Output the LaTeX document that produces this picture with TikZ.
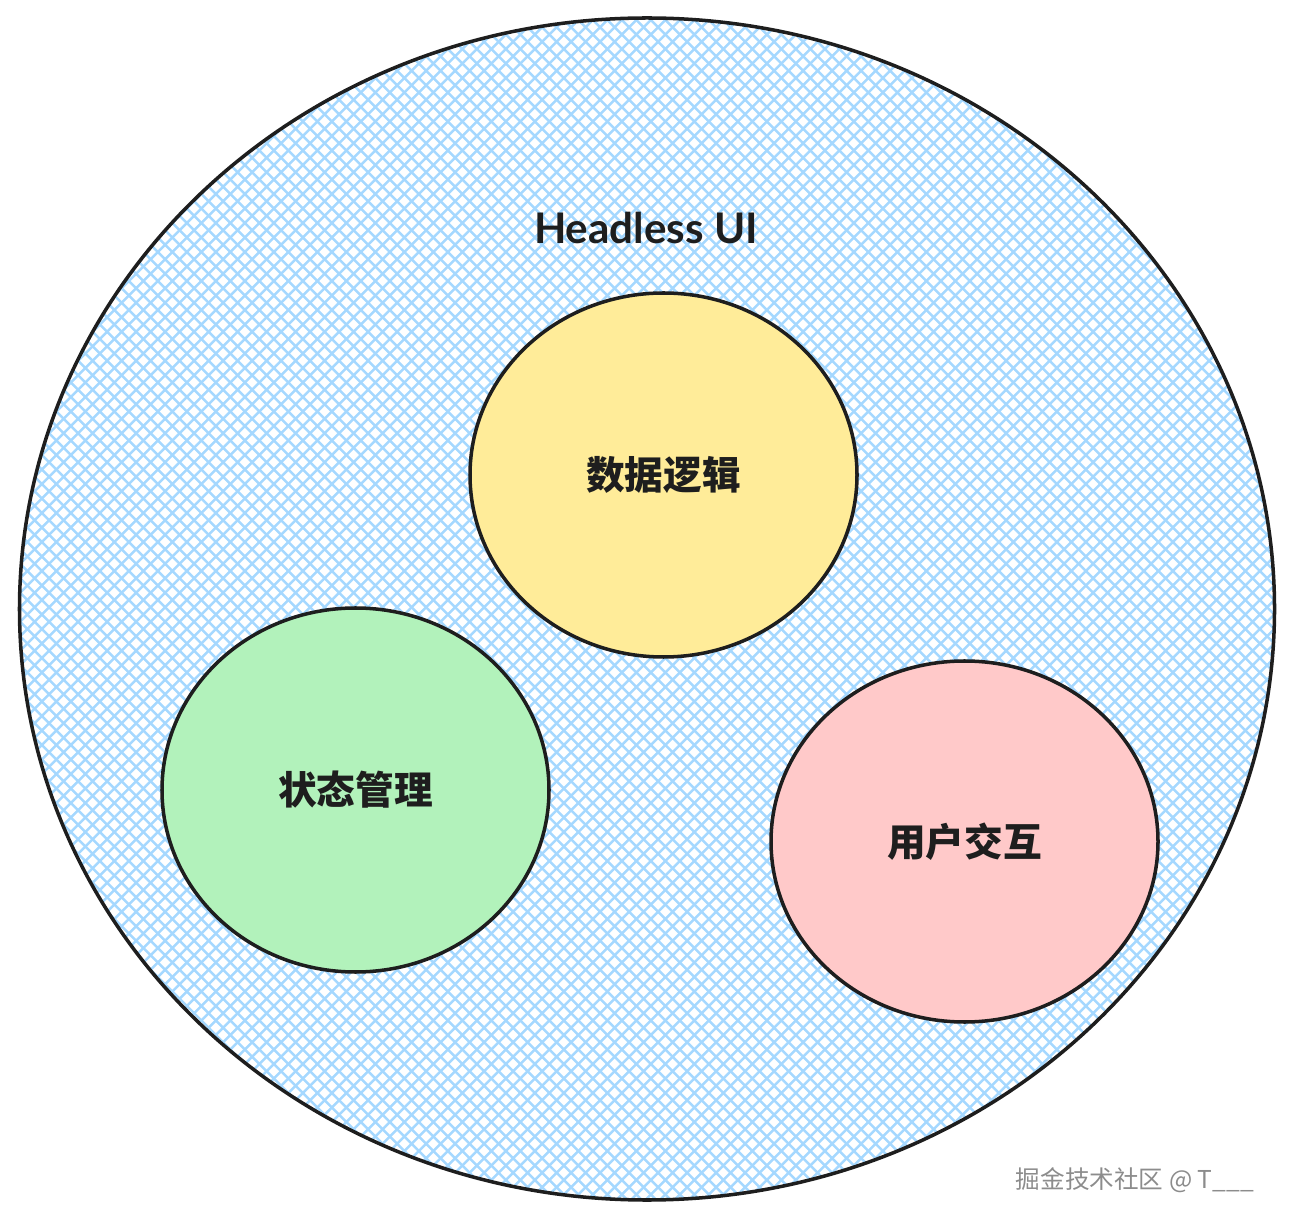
\documentclass[tikz,border=0pt]{standalone}
\usepackage{fontspec}
\setmainfont{Lato}
\newfontfamily\cjk{Noto Sans CJK SC}
\usepackage{tikz}
\usetikzlibrary{calc, shapes.geometric}
\definecolor{hatchblue}{HTML}{A5D8FF}
\definecolor{datayellow}{HTML}{FFEC99}
\definecolor{stategreen}{HTML}{B2F2BB}
\definecolor{userpink}{HTML}{FFC9C9}
\definecolor{inkblack}{HTML}{1E1E1E}
\definecolor{markgray}{HTML}{8C8C8C}
\tikzset{
	hatch/.style={hatchblue, line width=1.4pt},
	part/.style={ellipse, draw=inkblack, line width=2pt, inner sep=0pt,
		minimum width=7.74cm, minimum height=7.28cm,
		text=inkblack, font=\cjk\bfseries\fontsize{22}{26}\selectfont},
}

\begin{document}
\begin{tikzpicture}
			\useasboundingbox (0,0) rectangle (25.84,24.5);
			\coordinate (O) at (12.94,12.32);
			\begin{scope}
				\clip (O) ellipse (12.55 and 11.82);
				\foreach \d in {0,...,185} {
					\draw[hatch] (-25+\d*0.29,0) -- ++(25,25);
					\draw[hatch] (\d*0.29,0) -- ++(-25,25);
				}
			\end{scope}
			\draw[inkblack, line width=2pt] (O) ellipse (12.55 and 11.82);
			\node[text=inkblack, font=\bfseries\fontsize{24}{28}\selectfont] (title) at (12.92,19.94) {Headless UI};
			\node[part, fill=datayellow] (data) at (13.27,15.0) {数据逻辑};
			\node[part, fill=stategreen] (state) at (7.11,8.7) {状态管理};
			\node[part, fill=userpink, minimum height=7.22cm] (user) at (19.29,7.67) {用户交互};
			\node[anchor=east, text=markgray, font=\cjk\fontsize{14}{16}\selectfont] (mark) at (25.2,0.9) {掘金技术社区 @ T\_\_\_};
		\end{tikzpicture}
\end{document}
